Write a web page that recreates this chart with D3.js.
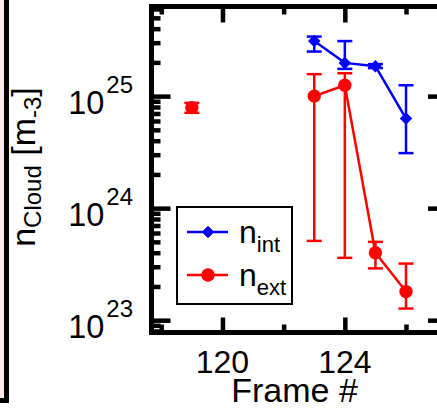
<!DOCTYPE html>
<html>
<head>
<meta charset="utf-8">
<script src="https://cdn.jsdelivr.net/npm/d3@7"></script>
<style>
  html, body { margin: 0; padding: 0; background: #fff; }
  svg { display: block; font-family: "Liberation Sans", Arial, Helvetica, sans-serif; }
</style>
</head>
<body>
<svg id="chart" width="437" height="409"></svg>
<script>
// ---- data ----
const frames = [123, 124, 125, 126];
const nInt = [3.1e25, 1.98e25, 1.85e25, 6.3e24];
const nIntLow = [2.5e25, 1.75e25, 1.78e25, 3.1e24];
const nIntHigh = [3.4e25, 3.1e25, 1.93e25, 1.25e25];

const extFrames = [123, 124, 125, 126];
const nExt = [1.0e25, 1.25e25, 4.0e23, 1.8e23];
const nExtLow = [5.1e23, 3.6e23, 2.9e23, 1.27e23];
const nExtHigh = [1.57e25, 1.6e25, 5.0e23, 3.2e23];

const isoFrame = [119];
const isoExt = [7.9e24];
const isoLow = [7.1e24];
const isoHigh = [8.7e24];

const xMajorTicks = [120, 124];
const xMinorTicks = [118, 122, 126];
const xTickLabels = ["120", "124"];
const yMajorTicks = [1e23, 1e24, 1e25];
const yTickExponents = ["23", "24", "25"];
const legendLabels = [["n", "int"], ["n", "ext"]];

// ---- layout ----
const svg = d3.select("#chart");
const L = 151.5, R = 447, T = 6.5, B = 332.5;
const x = d3.scaleLinear().domain([117.68, 127.34]).range([L, R]);
const y = d3.scaleLog().domain([Math.pow(10, 22.89), Math.pow(10, 25.8)]).range([B, T]);

// adjacent panel fragment on the left
svg.append("rect").attr("x", -20).attr("y", -20).attr("width", 26.5).attr("height", 420.5)
  .attr("fill", "#fde9e5").attr("stroke", "#000").attr("stroke-width", 5);

// ticks
const tickW = 4.5;
function styleAxis(g) {
  g.select(".domain").remove();
  g.selectAll(".tick line").attr("stroke", "#000").attr("stroke-width", tickW);
  g.selectAll(".tick text").remove();
}
const yMinor = y.ticks().filter(v => !yMajorTicks.some(m => Math.abs(m - v) / m < 1e-6));

svg.append("g").attr("transform", `translate(0,${B})`)
  .call(d3.axisBottom(x).tickValues(xMajorTicks).tickSize(-15).tickFormat("")).call(styleAxis);
svg.append("g").attr("transform", `translate(0,${B})`)
  .call(d3.axisBottom(x).tickValues(xMinorTicks).tickSize(-8).tickFormat("")).call(styleAxis);
svg.append("g").attr("transform", `translate(0,${T})`)
  .call(d3.axisTop(x).tickValues(xMajorTicks).tickSize(-16).tickFormat("")).call(styleAxis);
svg.append("g").attr("transform", `translate(0,${T})`)
  .call(d3.axisTop(x).tickValues(xMinorTicks).tickSize(-8).tickFormat("")).call(styleAxis);
svg.append("g").attr("transform", `translate(${L},0)`)
  .call(d3.axisLeft(y).tickValues(yMajorTicks).tickSize(-19).tickFormat("")).call(styleAxis);
svg.append("g").attr("transform", `translate(${L},0)`)
  .call(d3.axisLeft(y).tickValues(yMinor).tickSize(-9).tickFormat("")).call(styleAxis);
svg.append("g").attr("transform", `translate(${R},0)`)
  .call(d3.axisRight(y).tickValues(yMajorTicks).tickSize(-19).tickFormat("")).call(styleAxis);
svg.append("g").attr("transform", `translate(${R},0)`)
  .call(d3.axisRight(y).tickValues(yMinor).tickSize(-9).tickFormat("")).call(styleAxis);

// frame
svg.append("rect").attr("x", L).attr("y", T).attr("width", R - L).attr("height", B - T)
  .attr("fill", "none").attr("stroke", "#000").attr("stroke-width", 5);

// x tick labels
svg.append("g").selectAll("text").data(xMajorTicks).join("text")
  .attr("x", d => x(d)).attr("y", 373).attr("text-anchor", "middle")
  .attr("font-size", 32).attr("fill", "#000")
  .text((d, i) => xTickLabels[i]);

// y tick labels
const yl = svg.append("g").selectAll("text").data(yMajorTicks).join("text")
  .attr("x", 133).attr("y", d => y(d) + 18).attr("text-anchor", "end").attr("fill", "#000");
yl.append("tspan").attr("font-size", 32.5).text("10");
yl.append("tspan").attr("font-size", 24).attr("dx", 2).attr("dy", -21).text((d, i) => yTickExponents[i]);

// axis titles
svg.append("text").attr("x", 294.5).attr("y", 402).attr("text-anchor", "middle")
  .attr("font-size", 34).attr("fill", "#000").text("Frame #");
const yt = svg.append("text").attr("transform", "translate(35,167) rotate(-90)")
  .attr("text-anchor", "middle").attr("fill", "#000");
yt.append("tspan").attr("font-size", 34).text("n");
yt.append("tspan").attr("font-size", 24).attr("dy", 6).text("Cloud");
yt.append("tspan").attr("font-size", 34).attr("dy", -6).text(" [m");
yt.append("tspan").attr("font-size", 24).attr("dy", 6).text("-3");
yt.append("tspan").attr("font-size", 34).attr("dy", -6).text("]");

// ---- series drawing ----
const lw = 2.5, capHalf = 7.5;
function errorBars(g, xs, lo, hi, color) {
  const d = xs.map((f, i) => ({ f, lo: lo[i], hi: hi[i] }));
  g.selectAll(null).data(d).join("line")
    .attr("x1", p => x(p.f)).attr("x2", p => x(p.f))
    .attr("y1", p => y(p.lo)).attr("y2", p => y(p.hi))
    .attr("stroke", color).attr("stroke-width", lw);
  ["lo", "hi"].forEach(k => {
    g.selectAll(null).data(d).join("line")
      .attr("x1", p => x(p.f) - capHalf).attr("x2", p => x(p.f) + capHalf)
      .attr("y1", p => y(p[k])).attr("y2", p => y(p[k]))
      .attr("stroke", color).attr("stroke-width", lw);
  });
}
const line = d3.line().x(p => x(p[0])).y(p => y(p[1]));
const diamond = d3.symbol().type(d3.symbolDiamond2).size(100);

// blue
const gb = svg.append("g");
errorBars(gb, frames, nIntLow, nIntHigh, "#0000ff");
gb.append("path").attr("d", line(frames.map((f, i) => [f, nInt[i]])))
  .attr("fill", "none").attr("stroke", "#0000ff").attr("stroke-width", lw);
gb.selectAll(null).data(frames.map((f, i) => [f, nInt[i]])).join("path")
  .attr("d", diamond).attr("transform", p => `translate(${x(p[0])},${y(p[1])})`)
  .attr("fill", "#0000ff");

// red
const gr = svg.append("g");
errorBars(gr, extFrames, nExtLow, nExtHigh, "#ff0000");
errorBars(gr, isoFrame, isoLow, isoHigh, "#ff0000");
gr.append("path").attr("d", line(extFrames.map((f, i) => [f, nExt[i]])))
  .attr("fill", "none").attr("stroke", "#ff0000").attr("stroke-width", lw);
gr.selectAll(null).data(extFrames.map((f, i) => [f, nExt[i]]).concat(isoFrame.map((f, i) => [f, isoExt[i]])))
  .join("circle").attr("cx", p => x(p[0])).attr("cy", p => y(p[1])).attr("r", 6.7)
  .attr("fill", "#ff0000");

// legend
const lg = svg.append("g");
lg.append("rect").attr("x", 177).attr("y", 207).attr("width", 115).attr("height", 97)
  .attr("fill", "#fff").attr("stroke", "#000").attr("stroke-width", 2);
const legColors = ["#0000ff", "#ff0000"];
const legY = [232, 275];
legendLabels.forEach((lab, i) => {
  lg.append("line").attr("x1", 187).attr("x2", 228).attr("y1", legY[i]).attr("y2", legY[i])
    .attr("stroke", legColors[i]).attr("stroke-width", lw);
  if (i === 0) {
    lg.append("path").attr("d", diamond).attr("transform", `translate(208,${legY[i]})`).attr("fill", legColors[i]);
  } else {
    lg.append("circle").attr("cx", 208).attr("cy", legY[i]).attr("r", 6.7).attr("fill", legColors[i]);
  }
  const t = lg.append("text").attr("x", 239).attr("y", legY[i] + 11).attr("fill", "#000");
  t.append("tspan").attr("font-size", 32).text(lab[0]);
  t.append("tspan").attr("font-size", 22).attr("dy", 9).text(lab[1]);
});
</script>
</body>
</html>
